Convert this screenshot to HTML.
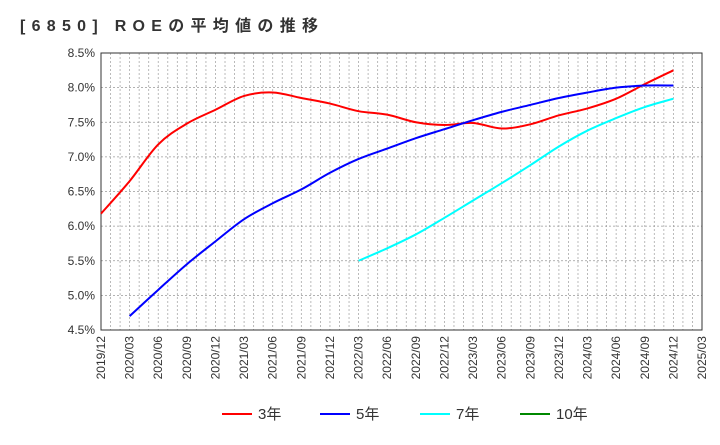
<!DOCTYPE html>
<html><head><meta charset="utf-8"><style>
body{margin:0;background:#fff;font-family:"Liberation Sans","Noto Sans CJK JP",sans-serif;}
svg text{font-family:"Liberation Sans","Noto Sans CJK JP",sans-serif;}
</style></head><body>
<svg id="c" width="720" height="440" xmlns="http://www.w3.org/2000/svg">
<text x="20" y="31" font-size="16" font-weight="bold" fill="#333" textLength="298" lengthAdjust="spacing">[6850]  ROEの平均値の推移</text>
<g id="grid"></g><g id="axes"></g><g id="series"></g><g id="legend"></g>
</svg>
<script>
const xLabels=["2019/12","2020/03","2020/06","2020/09","2020/12","2021/03","2021/06","2021/09","2021/12","2022/03","2022/06","2022/09","2022/12","2023/03","2023/06","2023/09","2023/12","2024/03","2024/06","2024/09","2024/12","2025/03"];
const yTicks=[4.5,5.0,5.5,6.0,6.5,7.0,7.5,8.0,8.5];
const roe3=[6.18,6.65,7.18,7.48,7.68,7.88,7.93,7.85,7.77,7.66,7.61,7.5,7.46,7.49,7.41,7.47,7.6,7.7,7.84,8.05,8.25];
const roe3Start=0;
const roe5=[4.7,5.08,5.45,5.78,6.1,6.33,6.53,6.77,6.97,7.12,7.27,7.4,7.53,7.65,7.75,7.85,7.93,8.0,8.03,8.03];
const roe5Start=1;
const roe7=[5.5,5.68,5.88,6.12,6.37,6.62,6.88,7.15,7.38,7.56,7.72,7.84];
const roe7Start=9;
const roe10=[];
const roe10Start=0;
const L=101,R=702,T=53,B=330;
const xs=i=>L+i*(R-L)/(xLabels.length-1);
const ys=v=>B-(v-4.5)/(8.5-4.5)*(B-T);
const NS="http://www.w3.org/2000/svg";
function mk(tag,attrs,parent){const e=document.createElementNS(NS,tag);for(const k in attrs)e.setAttribute(k,attrs[k]);parent.appendChild(e);return e;}
const grid=document.getElementById('grid'),axes=document.getElementById('axes'),series=document.getElementById('series'),legend=document.getElementById('legend');
for(let m=1;m<(xLabels.length-1)*3;m++){const x=L+m*(R-L)/((xLabels.length-1)*3);
const g=mk('line',{x1:x,x2:x,y1:T,y2:B,stroke:'#aaa','stroke-width':0.8,'stroke-dasharray':'2,2'},grid);

}
yTicks.forEach(v=>{const y=ys(v);
const g=mk('line',{x1:L,x2:R,y1:y,y2:y,stroke:'#999','stroke-width':0.8,'stroke-dasharray':'2,2'},grid);


const t=mk('text',{x:L-6,y:y+4,'text-anchor':'end','font-size':12,fill:'#333'},axes);t.textContent=v.toFixed(1)+'%';

});
const fr=mk('rect',{x:L,y:T,width:R-L,height:B-T,fill:'none',stroke:'#333','stroke-width':1},axes);


xLabels.forEach((s,i)=>{const x=xs(i);
const t=mk('text',{x:0,y:0,'text-anchor':'end','font-size':12,fill:'#333',transform:`translate(${x+4},${B+6}) rotate(-90)`},axes);t.textContent=s;

});
function pathD(vals,start){const p=vals.map((v,i)=>[xs(start+i),ys(v)]);if(!p.length)return'';
let d=`M${p[0][0]},${p[0][1]}`;
for(let i=0;i<p.length-1;i++){const p0=p[i-1]||p[i],p1=p[i],p2=p[i+1],p3=p[i+2]||p2;
const c1=[p1[0]+(p2[0]-p0[0])/6,p1[1]+(p2[1]-p0[1])/6],c2=[p2[0]-(p3[0]-p1[0])/6,p2[1]-(p3[1]-p1[1])/6];
d+=` C${c1[0]},${c1[1]} ${c2[0]},${c2[1]} ${p2[0]},${p2[1]}`;}return d;}
[[roe3,roe3Start,'#f00','line-3yr'],[roe5,roe5Start,'#00f','line-5yr'],[roe7,roe7Start,'#0ff','line-7yr'],[roe10,roe10Start,'#080','line-10yr']].forEach(([v,s,c,n])=>{
if(!v.length)return;
const p=mk('path',{d:pathD(v,s),fill:'none',stroke:c,'stroke-width':2},series);

});
[['3年','#f00',222],['5年','#00f',320],['7年','#0ff',420],['10年','#080',520]].forEach(([lab,c,x])=>{
const l=mk('line',{x1:x,x2:x+30,y1:414,y2:414,stroke:c,'stroke-width':2},legend);


const t=mk('text',{x:x+36,y:419,'font-size':15,fill:'#333'},legend);t.textContent=lab;

});
</script>
</body></html>
